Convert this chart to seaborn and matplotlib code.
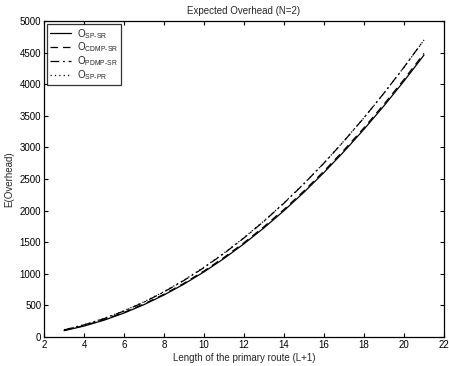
import matplotlib
matplotlib.use("Agg")
import matplotlib.pyplot as plt
import pandas as pd
import seaborn as sns

route_len = [3, 4, 5, 6, 7, 8, 9, 10, 11, 12, 13, 14, 15, 16, 17, 18, 19, 20, 21]
o_sp_sr = [100, 173, 266, 379, 512, 665, 837, 1030, 1242, 1475, 1727, 1999,
           2291, 2603, 2935, 3287, 3658, 4050, 4461]
o_cdmp_sr = [105, 180, 274, 389, 523, 677, 851, 1045, 1259, 1492, 1746, 2019,
             2312, 2625, 2958, 3311, 3684, 4076, 4488]
o_pdmp_sr = [112, 191, 290, 410, 551, 713, 895, 1098, 1322, 1567, 1832, 2118,
             2425, 2752, 3100, 3469, 3859, 4269, 4700]
o_sp_pr = [115, 194, 294, 415, 557, 718, 901, 1104, 1328, 1572, 1837, 2122,
           2429, 2755, 3103, 3470, 3859, 4268, 4698]

labels = [r"O$_{\text{SP-SR}}$", r"O$_{\text{CDMP-SR}}$", r"O$_{\text{PDMP-SR}}$", r"O$_{\text{SP-PR}}$"]
styles = ["-", (0, (6, 4)), (0, (7, 3, 1.5, 3)), (0, (1, 2.5))]

sns.set_style("ticks")
plt.rcParams["font.family"] = ["Liberation Sans", "DejaVu Sans"]
plt.rcParams["mathtext.fontset"] = "custom"
plt.rcParams["mathtext.rm"] = "Liberation Sans"
plt.rcParams["mathtext.it"] = "Liberation Sans:italic"
plt.rcParams["font.size"] = 7
plt.rcParams["axes.edgecolor"] = "black"

fig = plt.figure(figsize=(4.49, 3.66), dpi=100)
ax = fig.add_axes([44 / 449, 29 / 366, 400 / 449, 316 / 366])

for series, lab, ls in zip([o_sp_sr, o_cdmp_sr, o_pdmp_sr, o_sp_pr], labels, styles):
    df = pd.DataFrame({"x": route_len, "y": series})
    sns.lineplot(data=df, x="x", y="y", ax=ax, color="black", linewidth=0.9,
                 linestyle=ls, label=lab)

ax.set_xlim(2, 22)
ax.set_ylim(0, 5000)
ax.set_xticks(range(2, 23, 2))
ax.set_yticks(range(0, 5001, 500))
ax.tick_params(direction="in", top=True, right=True, length=3, width=0.8,
               labelsize=7, colors="black", pad=2)
for s in ax.spines.values():
    s.set_linewidth(0.9)
    s.set_visible(True)

ax.set_title("Expected Overhead (N=2)", fontsize=7, pad=5)
ax.set_xlabel("Length of the primary route (L+1)", fontsize=7, labelpad=2)
ax.set_ylabel("E(Overhead)", fontsize=7, labelpad=4)

leg = ax.legend(loc="upper left", fontsize=7, frameon=True, fancybox=False,
                edgecolor="black", borderpad=0.3, labelspacing=0.0,
                handlelength=2.2, handletextpad=0.6, borderaxespad=0.3)
leg.get_frame().set_linewidth(0.9)

plt.savefig("out.png", dpi=100)
plt.close()
